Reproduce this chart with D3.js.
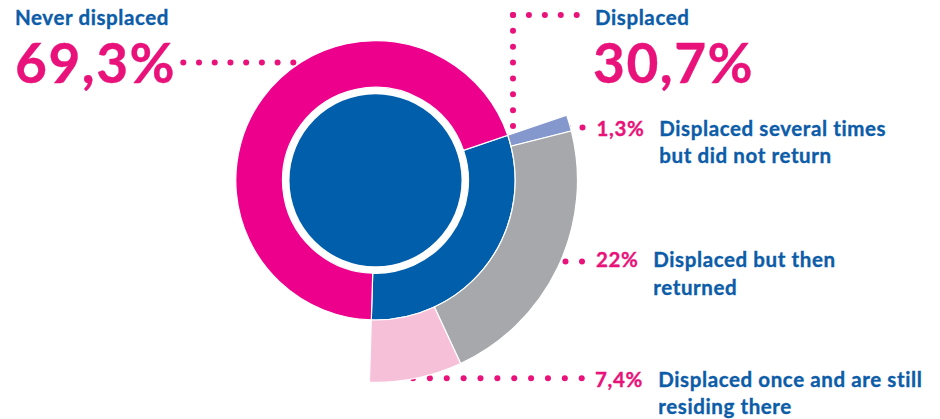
<!DOCTYPE html>
<html>
<head>
    <meta charset="utf-8">
    <title>Displacement</title>
    <style>
        body { margin: 0; background: #fff; }
        svg { display: block; }
        .lbl { font-family: Lato, "Open Sans", sans-serif; font-weight: 700; stroke-width: 0.35px; }
        .blue { fill: #0c5ca8; stroke: #0c5ca8; }
        .mag { fill: #e8127a; stroke: #e8127a; }
        .small { font-size: 20.5px; letter-spacing: 0.6px; }
        .big { font-size: 55px; letter-spacing: 1.5px; }
    </style>
</head>
<body>
    <svg width="940" height="419"></svg>

    <script src="https://d3js.org/d3.v7.min.js"></script>
    <script>
        // Datos: anillo principal
        var mainCats = ["Displaced", "Never displaced"];
        var mainVals = [30.7, 69.3];
        var mainText = ["30,7%", "69,3%"];

        // Desglose de desplazados
        var subCats = ["Displaced several times but did not return",
                       "Displaced but then returned",
                       "Displaced once and are still residing there"];
        var subVals = [1.3, 22, 7.4];
        var subText = ["1,3%", "22%", "7,4%"];
        var subLines = [["Displaced several times", "but did not return"],
                        ["Displaced but then", "returned"],
                        ["Displaced once and are still", "residing there"]];

        var svg = d3.select("svg");
        var cx = 375.5, cy = 180.3;
        var deg = Math.PI / 180;
        var a0 = 71.2 * deg;
        var total = d3.sum(mainVals);

        var mainColors = d3.scaleOrdinal().domain(mainCats).range(["#005eab", "#ec008c"]);
        var subColors = d3.scaleOrdinal().domain(subCats).range(["#8498ce", "#a7a8ab", "#f7c0d9"]);

        // Lineas de puntos (debajo del grafico)
        var dots = svg.append("g").attr("fill", "#e8127a");
        function dotRow(x0, x1, y, n) {
            d3.range(n).forEach(function(i) {
                dots.append("circle").attr("cx", x0 + (x1 - x0) * i / (n - 1)).attr("cy", y).attr("r", 3);
            });
        }
        function dotCol(x, y0, y1, n) {
            d3.range(n).forEach(function(i) {
                dots.append("circle").attr("cx", x).attr("cy", y0 + (y1 - y0) * i / (n - 1)).attr("r", 3);
            });
        }
        dotRow(183.3, 293.3, 62.5, 8);
        dotRow(513, 576.7, 15, 5);
        dotCol(513, 15, 126, 8);
        dotRow(553.5, 582.5, 127.5, 3);
        dotRow(549, 582, 261.5, 3);
        dotRow(413, 581.7, 378.3, 11);

        var g = svg.append("g").attr("transform", "translate(" + cx + "," + cy + ")");

        // Anillo principal
        var pieMain = d3.pie().sort(null).startAngle(a0).endAngle(a0 + 2 * Math.PI);
        var arcMain = d3.arc().innerRadius(93).outerRadius(139.7);
        g.selectAll("path.main")
            .data(pieMain(mainVals))
            .enter().append("path")
            .attr("class", "main")
            .attr("d", arcMain)
            .attr("fill", function(d, i) { return mainColors(mainCats[i]); })
            .attr("stroke", "#fff")
            .attr("stroke-width", 1.2);

        // Circulo interior
        g.append("circle").attr("r", 86).attr("fill", "#005eab");

        // Segmentos exteriores
        var pieSub = d3.pie().sort(null)
            .startAngle(a0)
            .endAngle(a0 + 2 * Math.PI * mainVals[0] / total);
        var arcSub = d3.arc().innerRadius(139.7).outerRadius(202);
        g.selectAll("path.sub")
            .data(pieSub(subVals))
            .enter().append("path")
            .attr("class", "sub")
            .attr("d", arcSub)
            .attr("fill", function(d, i) { return subColors(subCats[i]); })
            .attr("stroke", "#fff")
            .attr("stroke-width", 1.2);

        // Textos
        svg.append("text").attr("class", "lbl blue small").attr("x", 15).attr("y", 25).text(mainCats[1]);
        svg.append("text").attr("class", "lbl mag big").attr("x", 15).attr("y", 83.3).text(mainText[1]);
        svg.append("text").attr("class", "lbl blue small").attr("x", 595).attr("y", 25).text(mainCats[0]);
        svg.append("text").attr("class", "lbl mag big").attr("x", 593).attr("y", 83.3).text(mainText[0]);

        var pctX = [596.5, 596, 595];
        var lblX = [659.3, 653.3, 658.3];
        var baseY = [136, 267.3, 386.5];
        subVals.forEach(function(v, i) {
            svg.append("text").attr("class", "lbl mag small").attr("x", pctX[i]).attr("y", baseY[i]).text(subText[i]);
            subLines[i].forEach(function(s, j) {
                svg.append("text").attr("class", "lbl blue small").attr("x", lblX[i]).attr("y", baseY[i] + j * 27.3).text(s);
            });
        });
    </script>
</body>
</html>
